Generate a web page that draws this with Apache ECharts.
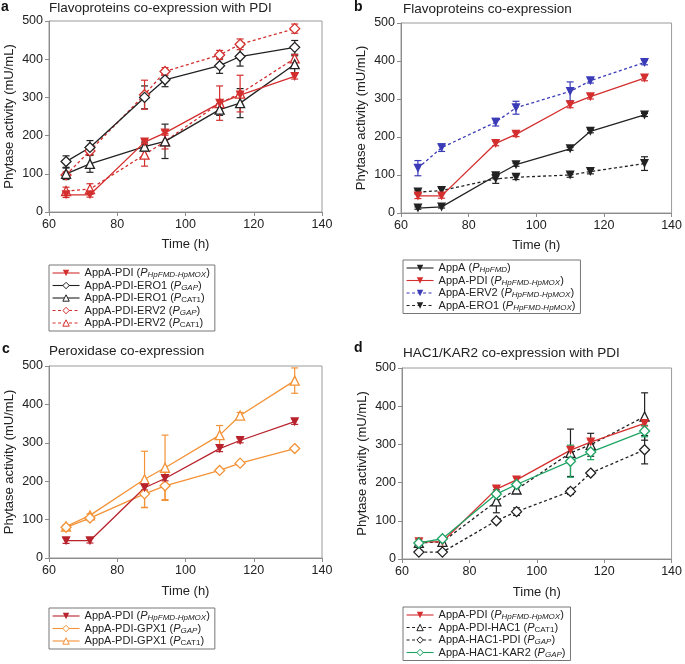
<!DOCTYPE html>
<html>
<head>
<meta charset="utf-8">
<script src="https://cdn.jsdelivr.net/npm/echarts@6/dist/echarts.min.js"></script>
<style>html,body{margin:0;padding:0;background:#fff}#c{width:685px;height:664px}</style>
</head>
<body>
<div id="c"></div>
<script>
// ---------- data ----------
const hours = [65, 72, 88, 94, 110, 116, 132];
const xTicks = [60, 80, 100, 120, 140];
const yTicks = [0, 100, 200, 300, 400, 500];

// AppA-PDI (same strain in all panels)
const pdiVals = [45, 45, 183, 207, 285, 306, 355];
const pdiErr  = [7, 6, 6, 6, 8, 6, 7];

// panel a
const ero1GapVals  = [132, 169, 300, 346, 383, 407, 431];
const ero1GapErr   = [15, 18, 30, 18, 20, 25, 18];
const ero1Cat1Vals = [100, 126, 171, 185, 268, 285, 387];
const ero1Cat1Err  = [15, 22, 12, 45, 15, 38, 22];
const erv2GapVals  = [97, 160, 307, 368, 411, 439, 480];
const erv2GapErr   = [8, 10, 38, 10, 12, 14, 12];
const erv2Cat1Vals = [55, 60, 150, 185, 285, 310, 402];
const erv2Cat1Err  = [10, 14, 30, 20, 45, 48, 10];

// panel b
const appAVals  = [13, 16, 98, 127, 169, 215, 258];
const appAErr   = [3, 3, 8, 4, 4, 4, 4];
const bErv2Vals = [118, 172, 239, 277, 320, 348, 396];
const bErv2Err  = [20, 10, 10, 17, 25, 6, 6];
const bEro1Vals = [55, 59, 90, 94, 100, 109, 130];
const bEro1Err  = [5, 6, 12, 6, 6, 6, 18];

// panel c
const gpxGapVals  = [80, 104, 167, 188, 228, 247, 285];
const gpxGapErr   = [4, 4, 36, 36, 4, 4, 4];
const gpxCat1Vals = [82, 111, 205, 235, 320, 371, 462];
const gpxCat1Err  = [4, 4, 73, 85, 25, 8, 33];

// panel d
const hacCat1Vals = [42, 45, 151, 182, 278, 299, 373];
const hacCat1Err  = [4, 4, 30, 8, 62, 30, 62];
const hacPdiVals  = [18, 18, 100, 124, 177, 225, 286];
const hacPdiErr   = [3, 3, 4, 10, 8, 4, 37];
const kar2Vals    = [42, 53, 170, 195, 256, 280, 335];
const kar2Err     = [4, 4, 6, 6, 42, 20, 15];

const panelTitles = ['Flavoproteins co-expression with PDI', 'Flavoproteins co-expression',
                     'Peroxidase co-expression', 'HAC1/KAR2 co-expression with PDI'];
const panelLetters = ['a', 'b', 'c', 'd'];
const xName = 'Time (h)';
const yName = 'Phytase activity (mU/mL)';

const legendText = {
  'a1': 'AppA-PDI ({i|P}{s|HpFMD-HpMOX})',
  'a2': 'AppA-PDI-ERO1 ({i|P}{s|GAP})',
  'a3': 'AppA-PDI-ERO1 ({i|P}{u|CAT1})',
  'a4': 'AppA-PDI-ERV2 ({i|P}{s|GAP})',
  'a5': 'AppA-PDI-ERV2 ({i|P}{u|CAT1})',
  'b1': 'AppA ({i|P}{s|HpFMD})',
  'b2': 'AppA-PDI ({i|P}{s|HpFMD-HpMOX})',
  'b3': 'AppA-ERV2 ({i|P}{s|HpFMD-HpMOX})',
  'b4': 'AppA-ERO1 ({i|P}{s|HpFMD-HpMOX})',
  'c1': 'AppA-PDI ({i|P}{s|HpFMD-HpMOX})',
  'c2': 'AppA-PDI-GPX1 ({i|P}{s|GAP})',
  'c3': 'AppA-PDI-GPX1 ({i|P}{u|CAT1})',
  'd1': 'AppA-PDI ({i|P}{s|HpFMD-HpMOX})',
  'd2': 'AppA-PDI-HAC1 ({i|P}{u|CAT1})',
  'd3': 'AppA-HAC1-PDI ({i|P}{s|GAP})',
  'd4': 'AppA-HAC1-KAR2 ({i|P}{s|GAP})'
};

// ---------- styles ----------
const RED = '#d42f2f', DRED = '#b8222c', BLK = '#222222', BLUE = '#3b3bb8', ORG = '#f39237', GRN = '#1fa464';
const FONT = 'Liberation Sans, Arial, sans-serif';

const grids = [
  {left: 49, top: 21, width: 273, height: 191},
  {left: 401, top: 23, width: 271, height: 190},
  {left: 49, top: 366, width: 273, height: 192},
  {left: 402, top: 368, width: 271, height: 191}
];

function pts(vals) { return vals.map((v, i) => [hours[i], v]); }

function lineS(name, gi, vals, color, symbol, filled, dash) {
  return {
    type: 'line', name: name, xAxisIndex: gi, yAxisIndex: gi, z: 3,
    data: pts(vals),
    symbol: symbol === 'down' ? 'triangle' : symbol,
    symbolRotate: symbol === 'down' ? 180 : 0,
    symbolSize: symbol === 'diamond' ? 10 : 9,
    showSymbol: true,
    lineStyle: {color: color, width: 1.3, type: dash ? [3, 2.5] : 'solid'},
    itemStyle: filled ? {color: color} : {color: '#ffffff', borderColor: color, borderWidth: 1.3},
    animation: false
  };
}

function errS(gi, vals, errs, color) {
  return {
    type: 'custom', xAxisIndex: gi, yAxisIndex: gi, z: 2, silent: true, animation: false,
    data: vals.map((v, i) => [hours[i], v, errs[i]]),
    encode: {x: 0, y: 1},
    renderItem: function (p, api) {
      const x = api.value(0), v = api.value(1), e = api.value(2);
      const t = api.coord([x, v + e]), b = api.coord([x, v - e]);
      const w = 3.5, st = {stroke: color, lineWidth: 1.2};
      return {type: 'group', children: [
        {type: 'line', shape: {x1: t[0], y1: t[1], x2: b[0], y2: b[1]}, style: st},
        {type: 'line', shape: {x1: t[0] - w, y1: t[1], x2: t[0] + w, y2: t[1]}, style: st},
        {type: 'line', shape: {x1: b[0] - w, y1: b[1], x2: b[0] + w, y2: b[1]}, style: st}
      ]};
    }
  };
}

const series = [
  // a
  errS(0, pdiVals, pdiErr, RED), errS(0, ero1GapVals, ero1GapErr, BLK), errS(0, ero1Cat1Vals, ero1Cat1Err, BLK),
  errS(0, erv2GapVals, erv2GapErr, RED), errS(0, erv2Cat1Vals, erv2Cat1Err, RED),
  lineS('a5', 0, erv2Cat1Vals, RED, 'triangle', false, true),
  lineS('a4', 0, erv2GapVals, RED, 'diamond', false, true),
  lineS('a3', 0, ero1Cat1Vals, BLK, 'triangle', false, false),
  lineS('a2', 0, ero1GapVals, BLK, 'diamond', false, false),
  lineS('a1', 0, pdiVals, RED, 'down', true, false),
  // b
  errS(1, appAVals, appAErr, BLK), errS(1, pdiVals, pdiErr, RED), errS(1, bErv2Vals, bErv2Err, BLUE), errS(1, bEro1Vals, bEro1Err, BLK),
  lineS('b4', 1, bEro1Vals, BLK, 'down', true, true),
  lineS('b3', 1, bErv2Vals, BLUE, 'down', true, true),
  lineS('b1', 1, appAVals, BLK, 'down', true, false),
  lineS('b2', 1, pdiVals, RED, 'down', true, false),
  // c
  errS(2, pdiVals, pdiErr, DRED), errS(2, gpxGapVals, gpxGapErr, ORG), errS(2, gpxCat1Vals, gpxCat1Err, ORG),
  lineS('c3', 2, gpxCat1Vals, ORG, 'triangle', false, false),
  lineS('c2', 2, gpxGapVals, ORG, 'diamond', false, false),
  lineS('c1', 2, pdiVals, DRED, 'down', true, false),
  // d
  errS(3, pdiVals, pdiErr, RED), errS(3, hacCat1Vals, hacCat1Err, BLK), errS(3, hacPdiVals, hacPdiErr, BLK), errS(3, kar2Vals, kar2Err, GRN),
  lineS('d3', 3, hacPdiVals, BLK, 'diamond', false, true),
  lineS('d2', 3, hacCat1Vals, BLK, 'triangle', false, true),
  lineS('d1', 3, pdiVals, RED, 'down', true, false),
  lineS('d4', 3, kar2Vals, GRN, 'diamond', false, false)
];

const axisCommon = {
  axisLine: {show: true, lineStyle: {color: '#8c8c8c', width: 1}},
  axisTick: {show: true, inside: false, length: 4, lineStyle: {color: '#8c8c8c'}},
  splitLine: {show: false},
  axisLabel: {color: '#222', fontSize: 12.5, fontFamily: FONT, margin: 6},
  nameTextStyle: {color: '#222', fontSize: 13, fontFamily: FONT}
};

const xAxes = grids.map((g, i) => Object.assign({}, axisCommon, {
  type: 'value', gridIndex: i, min: xTicks[0], max: xTicks[xTicks.length - 1], interval: 20,
  name: xName, nameLocation: 'middle', nameGap: i < 2 ? 26 : 27
}));
const yAxes = grids.map((g, i) => Object.assign({}, axisCommon, {
  type: 'value', gridIndex: i, min: yTicks[0], max: yTicks[yTicks.length - 1], interval: 100,
  name: yName, nameLocation: 'middle', nameGap: 33
}));

const legendPos = [
  {left: 49, top: 265, data: ['a1', 'a2', 'a3', 'a4', 'a5']},
  {left: 403, top: 260, data: ['b1', 'b2', 'b3', 'b4']},
  {left: 49, top: 608, data: ['c1', 'c2', 'c3']},
  {left: 403, top: 607, data: ['d1', 'd2', 'd3', 'd4']}
];
const legends = legendPos.map(l => ({
  left: l.left, top: l.top, data: l.data, orient: 'vertical', selectedMode: false,
  borderColor: '#777', borderWidth: 1, padding: [2, 5, 2, 3], itemGap: 0.5,
  itemWidth: 27, itemHeight: 8,
  lineStyle: {width: 1.1},
  itemStyle: {borderWidth: 1},
  formatter: n => legendText[n],
  textStyle: {
    color: '#222', fontSize: 11, fontFamily: FONT, lineHeight: 12,
    rich: {
      i: {fontSize: 11, fontStyle: 'italic', fontFamily: FONT, color: '#222', lineHeight: 12},
      s: {fontSize: 8, fontStyle: 'italic', fontFamily: FONT, color: '#222', lineHeight: 9, verticalAlign: 'bottom'},
      u: {fontSize: 8, fontFamily: FONT, color: '#222', lineHeight: 9, verticalAlign: 'bottom'}
    }
  }
}));

const titlePos = [[1, 0, 49, 1], [354, 0, 403, 2], [2, 342, 49, 344], [354, 341, 403, 346]];
const titles = [];
titlePos.forEach((p, i) => {
  titles.push({text: panelLetters[i], left: p[0], top: p[1], padding: 0,
    textStyle: {fontSize: 14, fontWeight: 'bold', color: '#111', fontFamily: FONT}});
  titles.push({text: panelTitles[i], left: p[2], top: p[3], padding: 0,
    textStyle: {fontSize: 13.5, fontWeight: 'normal', color: '#222', fontFamily: FONT}});
});

const chart = echarts.init(document.getElementById('c'));
chart.setOption({
  animation: false,
  backgroundColor: '#fff',
  title: titles,
  grid: grids.map(g => Object.assign({show: true, borderColor: '#9a9a9a', borderWidth: 1, backgroundColor: 'transparent'}, g)),
  xAxis: xAxes,
  yAxis: yAxes,
  legend: legends,
  series: series
});
</script>
</body>
</html>
